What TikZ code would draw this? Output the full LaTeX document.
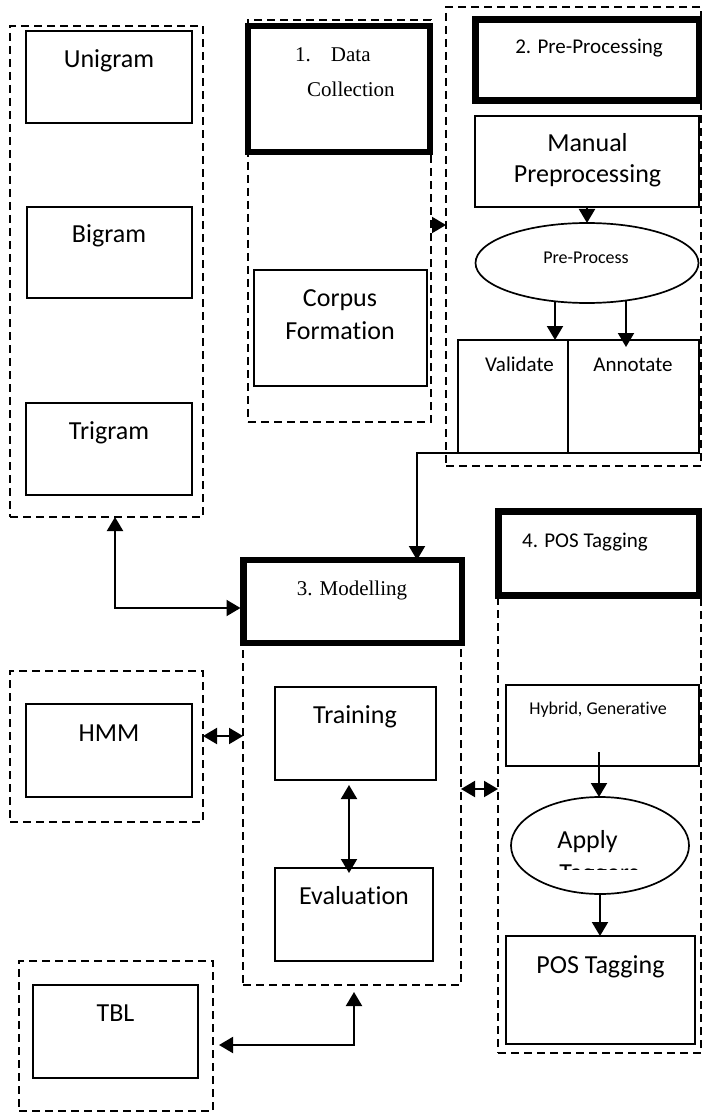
\documentclass[tikz,border=0pt]{standalone}
\usepackage{fontspec}
\setmainfont{Carlito}[Ligatures=NoCommon]
\newfontfamily\timesfont{Liberation Serif}
\usetikzlibrary{arrows.meta,calc,shapes.geometric}

\tikzset{
  box/.style={draw, line width=1.7pt, rectangle, inner sep=0pt, outer sep=0pt, fill=white},
  heavybox/.style={draw, line width=6.5pt, rectangle, inner sep=0pt, outer sep=0pt, fill=white},
  groupbox/.style={draw, line width=2.6pt, dash pattern=on 8pt off 5pt, rectangle, inner sep=0pt, outer sep=0pt},
  oval/.style={draw, line width=1.7pt, ellipse, inner sep=0pt, outer sep=0pt, fill=white},
  lbl/.style={inner sep=0pt, anchor=base},
  big/.style={font=\fontsize{26}{31}\selectfont},
  mid/.style={font=\fontsize{21}{25}\selectfont},
  small/.style={font=\fontsize{18}{22}\selectfont},
  serif/.style={font=\timesfont\fontsize{21}{25}\selectfont},
  flow/.style={line width=2pt, -{Triangle[length=14pt,width=16pt]}},
  twoway/.style={line width=2pt, {Triangle[length=14pt,width=16pt]}-{Triangle[length=14pt,width=16pt]}},
}

\begin{document}
\begin{tikzpicture}[x=1pt,y=-1pt]
\useasboundingbox (0,0) rectangle (702,1115);

% ---- n-gram models column ----
\node[groupbox, minimum width=193pt, minimum height=491pt] (ng) at (106.5,271.5) {};
\node[box, minimum width=166pt, minimum height=92pt] (uni) at (109,77) {};
\node[box, minimum width=165pt, minimum height=91pt] (bi) at (109.5,252.5) {};
\node[box, minimum width=166pt, minimum height=92pt] (tri) at (109,449) {};
\node[lbl, big] (t-uni) at (109,68) {Unigram};
\node[lbl, big] (t-bi) at (109,243) {Bigram};
\node[lbl, big] (t-tri) at (109,439) {Trigram};

% ---- 1. data collection ----
\node[groupbox, minimum width=183pt, minimum height=402pt] (dcg) at (339.5,221) {};
\node[heavybox, minimum width=182pt, minimum height=126pt] (dc) at (339,89) {};
\node[lbl, serif, anchor=base west] (t-dc1) at (295,62) {1.\hspace{20pt}Data};
\node[lbl, serif, anchor=base west] (t-dc2) at (307,97) {Collection};
\node[box, minimum width=173pt, minimum height=116pt] (corp) at (340.5,328) {};
\node[lbl, big] (t-corp1) at (340,306) {Corpus};
\node[lbl, big] (t-corp2) at (340,339) {Formation};

% ---- 2. pre-processing ----
\node[groupbox, minimum width=255pt, minimum height=459pt] (preg) at (573.5,236.5) {};
\node[heavybox, minimum width=223.5pt, minimum height=81pt] (pre) at (587.25,60) {};
\node[lbl, mid] (t-pre) at (589,54) {2. Pre-Processing};
\node[box, minimum width=224pt, minimum height=91pt] (man) at (587,161.5) {};
\node[lbl, big] (t-man1) at (587.5,152) {Manual};
\node[lbl, big] (t-man2) at (587.5,183) {Preprocessing};
\node[oval, minimum width=223pt, minimum height=80pt] (pp) at (587,263) {};
\node[lbl, small] (t-pp) at (586,263) {Pre-Process};
\node[box, minimum width=110pt, minimum height=113pt] (val) at (513,396.5) {};
\node[box, minimum width=131pt, minimum height=113pt] (ann) at (633.5,396.5) {};
\node[lbl, mid] (t-val) at (519.5,371) {Validate};
\node[lbl, mid] (t-ann) at (633,371) {Annotate};

% ---- 3. modelling ----
\node[groupbox, minimum width=218pt, minimum height=385pt] (modg) at (352,792.5) {};
\node[heavybox, minimum width=218.5pt, minimum height=83pt] (mod) at (352.75,601.5) {};
\node[lbl, serif] (t-mod) at (352,595) {3. Modelling};
\node[box, minimum width=161pt, minimum height=93pt] (train) at (355.5,733.5) {};
\node[lbl, big] (t-train) at (355,723) {Training};
\node[box, minimum width=158pt, minimum height=93pt] (eval) at (354,914.5) {};
\node[lbl, big] (t-eval) at (354,904) {Evaluation};

% ---- statistical taggers ----
\node[groupbox, minimum width=193pt, minimum height=151pt] (hmmg) at (106.5,746.5) {};
\node[box, minimum width=166pt, minimum height=93pt] (hmm) at (109,750.5) {};
\node[lbl, big] (t-hmm) at (109,741) {HMM};
\node[groupbox, minimum width=194pt, minimum height=150pt] (tblg) at (116,1036) {};
\node[box, minimum width=165pt, minimum height=93pt] (tbl) at (115.5,1031.5) {};
\node[lbl, big] (t-tbl) at (115.5,1021) {TBL};

% ---- 4. POS tagging ----
\node[groupbox, minimum width=203pt, minimum height=493pt] (posg) at (599.5,806.5) {};
\node[heavybox, minimum width=200.5pt, minimum height=84pt] (pos) at (598.75,553.5) {};
\node[lbl, mid] (t-pos) at (585,547) {4. POS Tagging};
\node[box, minimum width=193pt, minimum height=81pt] (hyb) at (602.5,725.5) {};
\node[lbl, small] (t-hyb) at (598,714) {Hybrid, Generative};
\node[oval, minimum width=178pt, minimum height=97pt] (ap) at (600,845.5) {};
\node[lbl, big] (t-ap) at (587.5,848) {Apply};
\begin{scope}
  \clip (505,850) rectangle (695,869);
  \node[lbl, big] (t-ap2) at (599,881) {Taggers};
\end{scope}
\node[box, minimum width=189pt, minimum height=108pt] (post) at (600.5,990) {};
\node[lbl, big] (t-post) at (600.5,973) {POS Tagging};

% ---- connectors ----
\draw[flow] ($(dcg.east)+(0,4)$) coordinate (c1) -- (c1 -| preg.west);
\draw[flow] (man.south) -- (pp.north);
\draw[flow] ($(pp.center)+(-32,38)$) coordinate (c2) -- (c2 |- val.north);
\draw[flow] ($(pp.center)+(39,37)$) coordinate (c3) -- ($(c3 |- ann.north)+(0,7)$);
\draw[flow] (val.south west) -| ($(mod.north)+(64.25,0)$);
\draw[twoway] ($(ng.south)+(8.5,0)$) |- ($(mod.west)+(-3,6.5)$);
\draw[twoway] ($(hmmg.east)+(0,-10.5)$) coordinate (c4) -- (c4 -| modg.west);
\draw[twoway] ($(train.south)+(-6.5,5)$) coordinate (c5) -- ($(c5 |- eval.north)+(0,5)$);
\draw[twoway] ($(modg.east)+(0,-3.5)$) coordinate (c6) -- (c6 -| posg.west);
\draw[flow] ($(hyb.center)+(-3.5,26.5)$) coordinate (c7) -- (c7 |- ap.north);
\draw[flow] (ap.south) -- (ap.south |- post.north);
\draw[twoway] ($(tblg.east)+(6,9)$) -| ($(modg.south)+(2,7)$);
\end{tikzpicture}
\end{document}
